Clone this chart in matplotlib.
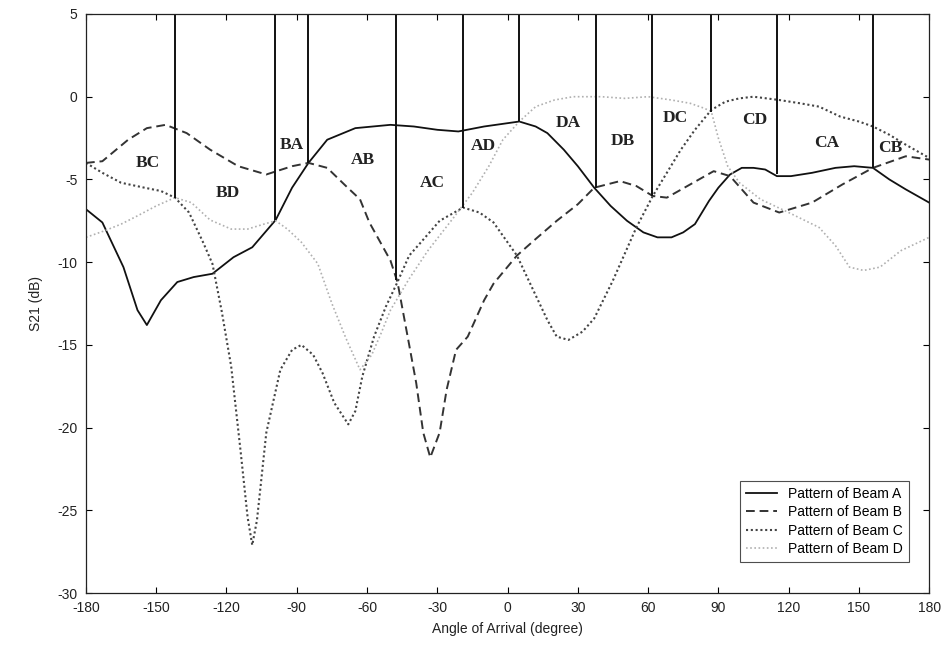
import matplotlib.pyplot as plt

plt.rcParams['axes.unicode_minus'] = False

# Beam patterns (angle in degree, S21 in dB)
angle_a = [-180, -173, -164, -158, -154, -148, -141, -134, -126, -117, -109, -99, -92, -85, -77,
           -65, -50, -40, -30, -21, -10, 0, 5, 12, 17, 24, 30, 37, 44, 51, 58, 64, 70, 75, 80,
           86, 90, 95, 100, 105, 110, 115, 121, 130, 140, 148, 156, 163, 170, 180]
beam_a = [-6.8, -7.6, -10.3, -12.9, -13.8, -12.3, -11.2, -10.9, -10.7, -9.7, -9.1, -7.45, -5.5, -4.0, -2.6,
          -1.9, -1.7, -1.8, -2.0, -2.1, -1.8, -1.6, -1.5, -1.8, -2.2, -3.2, -4.2, -5.5, -6.6, -7.5, -8.2, -8.5, -8.5, -8.2, -7.7,
          -6.3, -5.5, -4.7, -4.3, -4.3, -4.4, -4.8, -4.8, -4.6, -4.3, -4.2, -4.3, -5.0, -5.6, -6.4]

angle_b = [-180, -173, -162, -154, -146, -137, -127, -115, -103, -92, -85, -77, -69, -63, -59,
           -50, -47, -42, -39, -36, -33, -29, -26, -22, -17, -10, -6, 4, 12, 21, 30, 37, 48,
           55, 62, 68, 78, 88, 95, 105, 116, 130, 143, 156, 170, 180]
beam_b = [-4.0, -3.9, -2.6, -1.9, -1.7, -2.2, -3.2, -4.2, -4.7, -4.2, -4.0, -4.3, -5.4, -6.2, -7.6,
          -9.9, -11.2, -15.0, -17.3, -20.3, -21.8, -20.3, -17.7, -15.3, -14.5, -12.3, -11.3, -9.6, -8.6, -7.5, -6.5, -5.5, -5.1,
          -5.4, -6.0, -6.1, -5.3, -4.5, -4.8, -6.4, -7.0, -6.4, -5.3, -4.3, -3.6, -3.8]

angle_c = [-180, -173, -165, -155, -148, -142, -136, -130, -126, -122, -118, -114, -111, -109, -107,
           -103, -97, -92, -88, -83, -79, -74, -68, -65, -62, -57, -52, -47, -42, -37, -29, -19,
           -12, -6, 4, 11, 17, 21, 26, 32, 37, 45, 55, 62, 68, 74, 80, 87, 93, 99, 105,
           116, 125, 133, 142, 150, 156, 163, 170, 180]
beam_c = [-4.0, -4.6, -5.2, -5.5, -5.7, -6.1, -7.0, -8.8, -10.1, -13.0, -16.3, -21.4, -25.4, -27.1, -25.6,
          -20.3, -16.5, -15.3, -15.0, -15.6, -16.7, -18.5, -19.8, -19.0, -16.9, -14.5, -12.7, -11.2, -9.6, -8.8, -7.5, -6.7,
          -7.0, -7.6, -9.6, -11.7, -13.5, -14.5, -14.7, -14.2, -13.4, -11.1, -7.9, -6.0, -4.6, -3.2, -2.0, -0.8, -0.3, -0.1, 0.0,
          -0.2, -0.4, -0.6, -1.2, -1.5, -1.8, -2.3, -2.9, -3.7]

angle_d = [-180, -172, -165, -158, -150, -142, -135, -127, -118, -111, -104, -99, -94, -88, -81,
           -75, -69, -63, -58, -54, -50, -42, -34, -23, -15, -8, -2, 5, 12, 20, 28, 40, 50,
           60, 70, 78, 84, 87, 90, 94, 99, 108, 120, 133, 140, 146, 152, 159, 168, 180]
beam_d = [-8.5, -8.1, -7.7, -7.2, -6.6, -6.1, -6.4, -7.45, -8.0, -8.0, -7.7, -7.5, -8.0, -8.8, -10.1,
          -12.5, -14.6, -16.5, -15.6, -14.3, -12.9, -11.0, -9.3, -7.3, -5.8, -4.2, -2.6, -1.5, -0.6, -0.2, 0.0, 0.0, -0.1,
          0.0, -0.2, -0.4, -0.7, -0.9, -2.5, -4.2, -5.2, -6.2, -7.0, -7.9, -9.0, -10.3, -10.5, -10.3, -9.3, -8.5]

# Sector boundaries: angle and the level where each boundary line stops
boundary_angle = [-142, -99.3, -85.2, -47.6, -19, 4.9, 37.8, 61.7, 86.8, 115, 156]
boundary_level = [-6.1, -7.45, -4.0, -11.1, -6.7, -1.5, -5.5, -6.0, -0.9, -4.7, -4.3]

# Sector names and where they are written
sector_names = ['BC', 'BD', 'BA', 'AB', 'AC', 'AD', 'DA', 'DB', 'DC', 'CD', 'CA', 'CB']
sector_x = [-153.5, -119.4, -92, -61.7, -32.3, -10.5, 25.8, 49.3, 71.5, 105.7, 136.4, 163.3]
sector_y = [-4.0, -5.8, -2.9, -3.8, -5.2, -3.0, -1.6, -2.7, -1.3, -1.4, -2.8, -3.1]

fig = plt.figure(figsize=(9.52, 6.59), dpi=100)
ax = fig.add_axes([0.0903, 0.100, 0.8857, 0.8788])

ax.plot(angle_a, beam_a, color='#111111', lw=1.3, ls='-', label='Pattern of Beam A')
ax.plot(angle_b, beam_b, color='#333333', lw=1.4, ls=(0, (4.5, 2.5)), label='Pattern of Beam B')
ax.plot(angle_c, beam_c, color='#444444', lw=1.5, ls=(0, (1, 1.3)), label='Pattern of Beam C')
ax.plot(angle_d, beam_d, color='#b0b0b0', lw=1.2, ls=(0, (1, 1.5)), label='Pattern of Beam D')

ax.vlines(boundary_angle, boundary_level, 5, color='#111111', lw=1.4)

for name, x, y in zip(sector_names, sector_x, sector_y):
    ax.text(x, y, name, ha='center', va='center', family='Liberation Serif',
            fontsize=12.5, fontweight='bold', color='#222222')

ax.set_xlim(-180, 180)
ax.set_ylim(-30, 5)
ax.set_xticks(range(-180, 181, 30))
ax.set_yticks(range(-30, 6, 5))
ax.tick_params(direction='in', top=True, right=True, length=4, width=0.8,
               labelsize=10, labelcolor='#222222', pad=6)
for lab in ax.get_xticklabels() + ax.get_yticklabels():
    lab.set_family('Liberation Sans')
for s in ax.spines.values():
    s.set_linewidth(0.9)
    s.set_color('#222222')

ax.set_xlabel('Angle of Arrival (degree)', family='Liberation Sans', fontsize=10, color='#222222', labelpad=5)
ax.set_ylabel('S21 (dB)', family='Liberation Sans', fontsize=10, color='#222222', labelpad=10)

leg = ax.legend(loc='lower right', bbox_to_anchor=(0.984, 0.041), prop={'family': 'Liberation Sans', 'size': 10},
                frameon=True, fancybox=False, handlelength=2.2, labelspacing=0.32, borderpad=0.45)
leg.get_frame().set_edgecolor('#222222')
leg.get_frame().set_linewidth(0.8)

fig.savefig('out.png', dpi=100)
